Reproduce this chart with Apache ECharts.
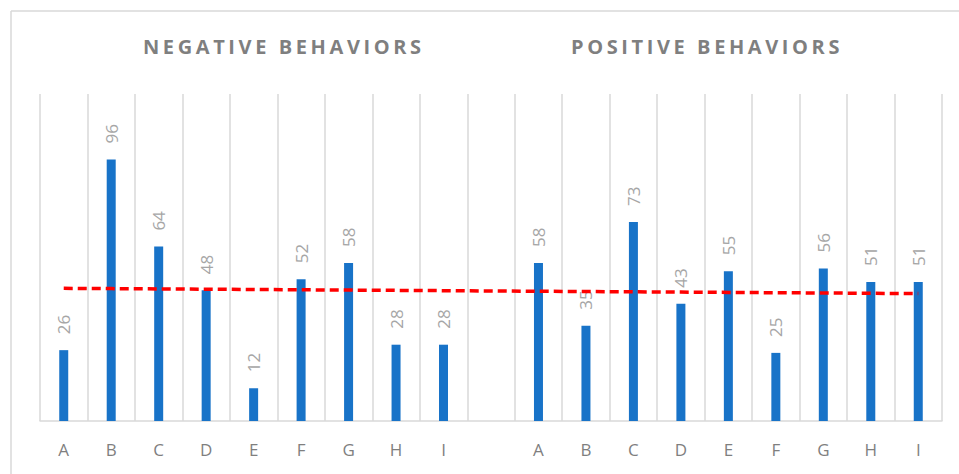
<!DOCTYPE html>
<html>
<head>
<meta charset="utf-8">
<script src="https://cdn.jsdelivr.net/npm/echarts@6/dist/echarts.min.js"></script>
<style>
html,body{margin:0;padding:0;background:#fff;}
#chart{width:959px;height:474px;}
svg text[style*="bold"]{letter-spacing:3.6px;}
</style>
</head>
<body>
<div id="chart"></div>
<script>
var categories = ['A','B','C','D','E','F','G','H','I','','A','B','C','D','E','F','G','H','I'];
var negativeValues = [26, 96, 64, 48, 12, 52, 58, 28, 28];
var positiveValues = [58, 35, 73, 43, 55, 25, 56, 51, 51];
var groupTitles = ['NEGATIVE BEHAVIORS', 'POSITIVE BEHAVIORS'];

var barValues = negativeValues.concat(['-']).concat(positiveValues);

// linear trendline (least squares) over the bar points
var pts = [];
barValues.forEach(function (v, i) { if (v !== '-') pts.push([i, v]); });
var n = pts.length, sx = 0, sy = 0, sxy = 0, sxx = 0;
pts.forEach(function (p) { sx += p[0]; sy += p[1]; sxy += p[0] * p[1]; sxx += p[0] * p[0]; });
var slope = (n * sxy - sx * sy) / (n * sxx - sx * sx);
var intercept = (sy - slope * sx) / n;
var trendValues = categories.map(function (c, i) { return +(intercept + slope * i).toFixed(3); });

var chart = echarts.init(document.getElementById('chart'), null, {renderer: 'svg'});
chart.setOption({
  animation: false,
  backgroundColor: '#fff',
  title: [
    {text: groupTitles[0], left: 138, top: 31,
     textStyle: {fontFamily: 'Open Sans', fontWeight: 'bold', fontSize: 20, color: '#7f7f7f'}},
    {text: groupTitles[1], left: 566, top: 31,
     textStyle: {fontFamily: 'Open Sans', fontWeight: 'bold', fontSize: 20, color: '#7f7f7f'}}
  ],
  grid: {left: 40, right: 17, top: 94, bottom: 53, containLabel: false},
  xAxis: {
    type: 'category',
    data: categories,
    boundaryGap: true,
    axisLine: {show: true, lineStyle: {color: '#d9d9d9', width: 1.5}},
    axisTick: {show: false},
    splitLine: {show: true, lineStyle: {color: '#d9d9d9', width: 1.5}},
    axisLabel: {color: '#7f7f7f', fontSize: 17, fontFamily: 'Open Sans', margin: 20, interval: 0}
  },
  yAxis: {
    type: 'value', min: 0, max: 120,
    show: false,
    splitLine: {show: false}
  },
  series: [
    {
      type: 'bar',
      data: barValues,
      barWidth: 9,
      itemStyle: {color: '#1873c8'},
      label: {
        show: true, position: 'top', rotate: 90, distance: 16,
        align: 'left', verticalAlign: 'middle',
        color: '#a6a6a6', fontSize: 17, fontFamily: 'Open Sans'
      },
      z: 2
    },
    {
      type: 'line',
      data: trendValues,
      symbol: 'none',
      lineStyle: {color: '#ff0000', width: 3.5, type: [9, 5]},
      z: 3,
      silent: true
    }
  ],
  graphic: [
    {type: 'line', shape: {x1: 11, y1: 11, x2: 959, y2: 11}, style: {stroke: '#d9d9d9', lineWidth: 1.5}, silent: true},
    {type: 'line', shape: {x1: 11, y1: 11, x2: 11, y2: 474}, style: {stroke: '#d9d9d9', lineWidth: 1.5}, silent: true}
  ]
});
</script>
</body>
</html>
